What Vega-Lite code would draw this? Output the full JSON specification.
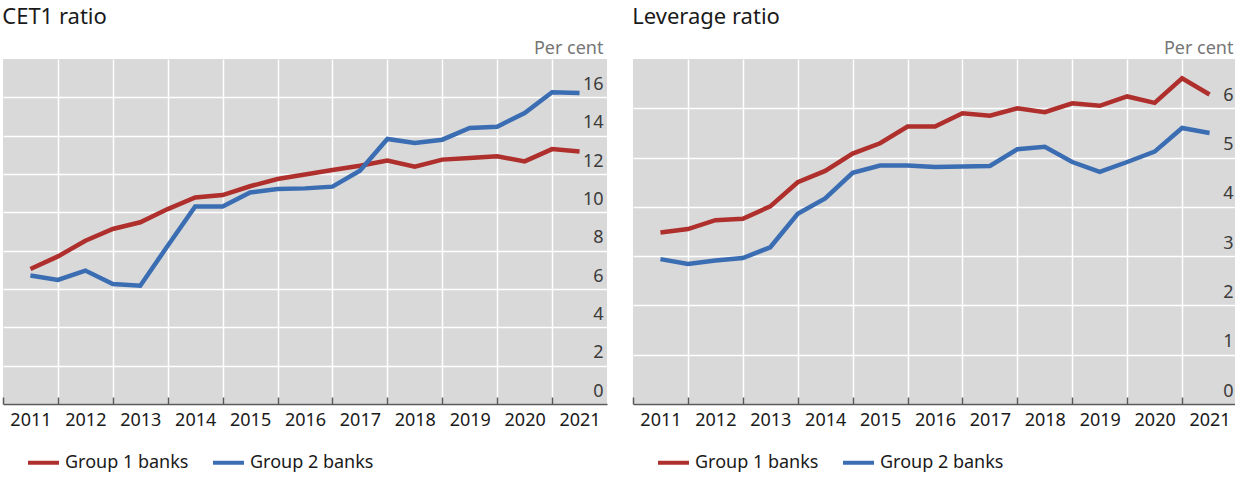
{
  "$schema": "https://vega.github.io/schema/vega-lite/v6.json",
  "padding": {"left": 2, "top": 6, "right": 0, "bottom": 0},
  "autosize": {"type": "pad"},
  "background": "white",
  "spacing": 25,
  "config": {
    "font": "Noto Sans",
    "view": {"fill": "#d9d9d9", "stroke": null},
    "title": {"fontSize": 22, "fontWeight": "normal", "color": "#1a1a1a", "anchor": "start", "font": "Noto Sans", "offset": 10}
  },
  "datasets": {
    "cet1": [
      {"t": 2011.5, "g": "Group 1 banks", "v": 7.04}, {"t": 2012.0, "g": "Group 1 banks", "v": 7.70}, {"t": 2012.5, "g": "Group 1 banks", "v": 8.52},
      {"t": 2013.0, "g": "Group 1 banks", "v": 9.13}, {"t": 2013.5, "g": "Group 1 banks", "v": 9.48}, {"t": 2014.0, "g": "Group 1 banks", "v": 10.17},
      {"t": 2014.5, "g": "Group 1 banks", "v": 10.78}, {"t": 2015.0, "g": "Group 1 banks", "v": 10.90}, {"t": 2015.5, "g": "Group 1 banks", "v": 11.36},
      {"t": 2016.0, "g": "Group 1 banks", "v": 11.74}, {"t": 2016.5, "g": "Group 1 banks", "v": 11.97}, {"t": 2017.0, "g": "Group 1 banks", "v": 12.21},
      {"t": 2017.5, "g": "Group 1 banks", "v": 12.43}, {"t": 2018.0, "g": "Group 1 banks", "v": 12.70}, {"t": 2018.5, "g": "Group 1 banks", "v": 12.38},
      {"t": 2019.0, "g": "Group 1 banks", "v": 12.75}, {"t": 2019.5, "g": "Group 1 banks", "v": 12.83}, {"t": 2020.0, "g": "Group 1 banks", "v": 12.92},
      {"t": 2020.5, "g": "Group 1 banks", "v": 12.66}, {"t": 2021.0, "g": "Group 1 banks", "v": 13.30}, {"t": 2021.5, "g": "Group 1 banks", "v": 13.17},
      {"t": 2011.5, "g": "Group 2 banks", "v": 6.70}, {"t": 2012.0, "g": "Group 2 banks", "v": 6.47}, {"t": 2012.5, "g": "Group 2 banks", "v": 6.96},
      {"t": 2013.0, "g": "Group 2 banks", "v": 6.26}, {"t": 2013.5, "g": "Group 2 banks", "v": 6.17}, {"t": 2014.0, "g": "Group 2 banks", "v": 8.26},
      {"t": 2014.5, "g": "Group 2 banks", "v": 10.31}, {"t": 2015.0, "g": "Group 2 banks", "v": 10.31}, {"t": 2015.5, "g": "Group 2 banks", "v": 11.04},
      {"t": 2016.0, "g": "Group 2 banks", "v": 11.22}, {"t": 2016.5, "g": "Group 2 banks", "v": 11.25}, {"t": 2017.0, "g": "Group 2 banks", "v": 11.34},
      {"t": 2017.5, "g": "Group 2 banks", "v": 12.17}, {"t": 2018.0, "g": "Group 2 banks", "v": 13.83}, {"t": 2018.5, "g": "Group 2 banks", "v": 13.62},
      {"t": 2019.0, "g": "Group 2 banks", "v": 13.79}, {"t": 2019.5, "g": "Group 2 banks", "v": 14.40}, {"t": 2020.0, "g": "Group 2 banks", "v": 14.47},
      {"t": 2020.5, "g": "Group 2 banks", "v": 15.18}, {"t": 2021.0, "g": "Group 2 banks", "v": 16.27}, {"t": 2021.5, "g": "Group 2 banks", "v": 16.22}
    ],
    "lev": [
      {"t": 2011.5, "g": "Group 1 banks", "v": 3.48}, {"t": 2012.0, "g": "Group 1 banks", "v": 3.55}, {"t": 2012.5, "g": "Group 1 banks", "v": 3.73},
      {"t": 2013.0, "g": "Group 1 banks", "v": 3.76}, {"t": 2013.5, "g": "Group 1 banks", "v": 4.01}, {"t": 2014.0, "g": "Group 1 banks", "v": 4.50},
      {"t": 2014.5, "g": "Group 1 banks", "v": 4.73}, {"t": 2015.0, "g": "Group 1 banks", "v": 5.08}, {"t": 2015.5, "g": "Group 1 banks", "v": 5.29},
      {"t": 2016.0, "g": "Group 1 banks", "v": 5.63}, {"t": 2016.5, "g": "Group 1 banks", "v": 5.63}, {"t": 2017.0, "g": "Group 1 banks", "v": 5.90},
      {"t": 2017.5, "g": "Group 1 banks", "v": 5.85}, {"t": 2018.0, "g": "Group 1 banks", "v": 6.00}, {"t": 2018.5, "g": "Group 1 banks", "v": 5.92},
      {"t": 2019.0, "g": "Group 1 banks", "v": 6.10}, {"t": 2019.5, "g": "Group 1 banks", "v": 6.05}, {"t": 2020.0, "g": "Group 1 banks", "v": 6.24},
      {"t": 2020.5, "g": "Group 1 banks", "v": 6.11}, {"t": 2021.0, "g": "Group 1 banks", "v": 6.61}, {"t": 2021.5, "g": "Group 1 banks", "v": 6.28},
      {"t": 2011.5, "g": "Group 2 banks", "v": 2.94}, {"t": 2012.0, "g": "Group 2 banks", "v": 2.84}, {"t": 2012.5, "g": "Group 2 banks", "v": 2.91},
      {"t": 2013.0, "g": "Group 2 banks", "v": 2.96}, {"t": 2013.5, "g": "Group 2 banks", "v": 3.18}, {"t": 2014.0, "g": "Group 2 banks", "v": 3.86},
      {"t": 2014.5, "g": "Group 2 banks", "v": 4.17}, {"t": 2015.0, "g": "Group 2 banks", "v": 4.69}, {"t": 2015.5, "g": "Group 2 banks", "v": 4.84},
      {"t": 2016.0, "g": "Group 2 banks", "v": 4.84}, {"t": 2016.5, "g": "Group 2 banks", "v": 4.81}, {"t": 2017.0, "g": "Group 2 banks", "v": 4.82},
      {"t": 2017.5, "g": "Group 2 banks", "v": 4.83}, {"t": 2018.0, "g": "Group 2 banks", "v": 5.17}, {"t": 2018.5, "g": "Group 2 banks", "v": 5.22},
      {"t": 2019.0, "g": "Group 2 banks", "v": 4.91}, {"t": 2019.5, "g": "Group 2 banks", "v": 4.71}, {"t": 2020.0, "g": "Group 2 banks", "v": 4.91},
      {"t": 2020.5, "g": "Group 2 banks", "v": 5.12}, {"t": 2021.0, "g": "Group 2 banks", "v": 5.60}, {"t": 2021.5, "g": "Group 2 banks", "v": 5.50}
    ]
  },
  "resolve": {"legend": {"color": "independent"}},
  "hconcat": [
    {
      "title": "CET1 ratio",
      "width": 604,
      "height": 345,
      "data": {"name": "cet1"},
      "mark": {"type": "line", "strokeWidth": 4.5, "strokeJoin": "miter"},
      "encoding": {
        "x": {
          "field": "t", "type": "quantitative",
          "scale": {"domain": [2011, 2022], "nice": false, "zero": false},
          "axis": {
            "values": [2011, 2012, 2013, 2014, 2015, 2016, 2017, 2018, 2019, 2020, 2021],
            "format": "d",
            "labelOffset": 27.45, "labelFlush": false, "labelOverlap": false, "labelBound": false,
            "labelFontSize": 18, "labelColor": "#1a1a1a", "labelPadding": 14,
            "tickSize": -7, "tickColor": "#595959", "tickWidth": 1.5,
            "domainColor": "#595959", "domainWidth": 1.5,
            "grid": true, "gridWidth": 1.5,
            "gridColor": {"condition": {"test": "datum.value == 2011", "value": "transparent"}, "value": "#ffffff"},
            "title": null
          }
        },
        "y": {
          "field": "v", "type": "quantitative",
          "scale": {"domain": [0, 18], "nice": false},
          "axis": {
            "orient": "right", "values": [0, 2, 4, 6, 8, 10, 12, 14, 16],
            "grid": true, "gridColor": "#ffffff", "gridWidth": 1.5,
            "ticks": false, "domain": false,
            "labelAlign": "right", "labelPadding": -4, "labelOffset": -8, "labelBaseline": "alphabetic",
            "labelFontSize": 18, "labelColor": "#3c3c3c",
            "title": "Per cent", "titleAngle": 0, "titleAlign": "right", "titleBaseline": "alphabetic",
            "titleX": -4, "titleY": -6, "titleFontSize": 18, "titleFontWeight": "normal", "titleColor": "#767676"
          }
        },
        "color": {
          "field": "g", "type": "nominal",
          "scale": {"domain": ["Group 1 banks", "Group 2 banks"], "range": ["#AF2F2D", "#3B6DB3"]},
          "legend": {
            "title": null, "orient": "none", "legendX": 23, "legendY": 386, "direction": "horizontal",
            "symbolType": "stroke", "symbolSize": 961, "symbolStrokeWidth": 4,
            "labelFontSize": 18, "labelColor": "#1a1a1a", "labelOffset": 4, "columnPadding": 16
          }
        }
      }
    },
    {
      "title": "Leverage ratio",
      "width": 604,
      "height": 345,
      "data": {"name": "lev"},
      "mark": {"type": "line", "strokeWidth": 4.5, "strokeJoin": "miter"},
      "encoding": {
        "x": {
          "field": "t", "type": "quantitative",
          "scale": {"domain": [2011, 2022], "nice": false, "zero": false},
          "axis": {
            "values": [2011, 2012, 2013, 2014, 2015, 2016, 2017, 2018, 2019, 2020, 2021],
            "format": "d",
            "labelOffset": 27.45, "labelFlush": false, "labelOverlap": false, "labelBound": false,
            "labelFontSize": 18, "labelColor": "#1a1a1a", "labelPadding": 14,
            "tickSize": -7, "tickColor": "#595959", "tickWidth": 1.5,
            "domainColor": "#595959", "domainWidth": 1.5,
            "grid": true, "gridWidth": 1.5,
            "gridColor": {"condition": {"test": "datum.value == 2011", "value": "transparent"}, "value": "#ffffff"},
            "title": null
          }
        },
        "y": {
          "field": "v", "type": "quantitative",
          "scale": {"domain": [0, 7], "nice": false},
          "axis": {
            "orient": "right", "values": [0, 1, 2, 3, 4, 5, 6],
            "grid": true, "gridColor": "#ffffff", "gridWidth": 1.5,
            "ticks": false, "domain": false,
            "labelAlign": "right", "labelPadding": -4, "labelOffset": -8, "labelBaseline": "alphabetic",
            "labelFontSize": 18, "labelColor": "#3c3c3c",
            "title": "Per cent", "titleAngle": 0, "titleAlign": "right", "titleBaseline": "alphabetic",
            "titleX": -4, "titleY": -6, "titleFontSize": 18, "titleFontWeight": "normal", "titleColor": "#767676"
          }
        },
        "color": {
          "field": "g", "type": "nominal",
          "scale": {"domain": ["Group 1 banks", "Group 2 banks"], "range": ["#AF2F2D", "#3B6DB3"]},
          "legend": {
            "title": null, "orient": "none", "legendX": 23, "legendY": 386, "direction": "horizontal",
            "symbolType": "stroke", "symbolSize": 961, "symbolStrokeWidth": 4,
            "labelFontSize": 18, "labelColor": "#1a1a1a", "labelOffset": 4, "columnPadding": 16
          }
        }
      }
    }
  ]
}
